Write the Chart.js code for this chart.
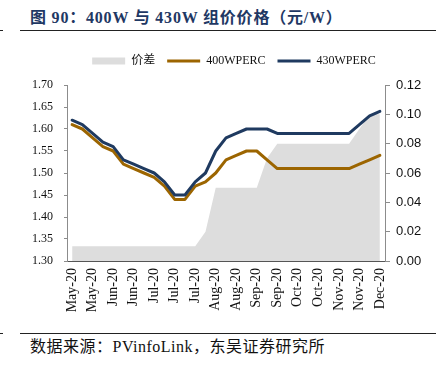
<!DOCTYPE html>
<html>
<head>
<meta charset="utf-8">
<script src="https://cdn.jsdelivr.net/npm/chart.js@4.4.1/dist/chart.umd.min.js"></script>
<style>
  body {
    margin: 0;
    width: 442px;
    height: 371px;
    background: #fff;
    position: relative;
    overflow: hidden;
    font-family: "Liberation Serif", "Noto Sans CJK SC", serif;
  }
  #title {
    position: absolute;
    left: 30px;
    top: 4px;
    font-size: 16px;
    letter-spacing: 0.8px;
    font-weight: bold;
    color: #1f3864;
    white-space: nowrap;
  }
  .rule {
    position: absolute;
    height: 0;
    border-top: 1.5px solid #222;
  }
  #box {
    position: absolute;
    left: 0;
    top: 40px;
    width: 442px;
    height: 290px;
  }
  #source {
    position: absolute;
    left: 30px;
    top: 333px;
    font-size: 16px;
    letter-spacing: 0.5px;
    color: #111;
    white-space: nowrap;
  }
</style>
</head>
<body>
<div id="title">图 90：400W 与 430W 组价价格（元/W）</div>
<div class="rule" style="left:20px;top:30px;width:416px"></div>
<div class="rule" style="left:0;top:30px;width:3px"></div>
<div id="box"><canvas id="priceChart"></canvas></div>
<div class="rule" style="left:20px;top:333px;width:416px"></div>
<div class="rule" style="left:0;top:333px;width:3px"></div>
<div id="source">数据来源：PVinfoLink，东吴证券研究所</div>

<script>
// weekly points, May-20 .. Dec-20
const weeks = [
  "May-20", "May-20", "May-20", "May-20",
  "Jun-20", "Jun-20", "Jun-20", "Jun-20",
  "Jul-20", "Jul-20", "Jul-20", "Jul-20", "Jul-20",
  "Aug-20", "Aug-20", "Aug-20", "Aug-20",
  "Sep-20", "Sep-20", "Sep-20", "Sep-20", "Sep-20",
  "Oct-20", "Oct-20", "Oct-20", "Oct-20",
  "Nov-20", "Nov-20", "Nov-20", "Nov-20",
  "Dec-20",
];

const price400 = [
  1.61, 1.60, 1.58, 1.56, 1.55, 1.52, 1.51, 1.50, 1.49, 1.47, 1.44,
  1.44, 1.47, 1.48, 1.50, 1.53, 1.54, 1.55, 1.55, 1.53, 1.51, 1.51,
  1.51, 1.51, 1.51, 1.51, 1.51, 1.51, 1.52, 1.53, 1.54,
];

const price430 = [
  1.62, 1.61, 1.59, 1.57, 1.56, 1.53, 1.52, 1.51, 1.50, 1.48, 1.45,
  1.45, 1.48, 1.50, 1.55, 1.58, 1.59, 1.60, 1.60, 1.60, 1.59, 1.59,
  1.59, 1.59, 1.59, 1.59, 1.59, 1.59, 1.61, 1.63, 1.64,
];

const spread = [
  0.01, 0.01, 0.01, 0.01, 0.01, 0.01, 0.01, 0.01, 0.01, 0.01, 0.01,
  0.01, 0.01, 0.02, 0.05, 0.05, 0.05, 0.05, 0.05, 0.07, 0.08, 0.08,
  0.08, 0.08, 0.08, 0.08, 0.08, 0.08, 0.09, 0.10, 0.10,
];

const seriesNames = ["价差", "400WPERC", "430WPERC"];

const serif = "'Liberation Serif', 'Noto Sans CJK SC', serif";
const axisGray = "#8c8c8c";

// push the plot down under the legend and move the legend a bit right
const legendNudge = {
  id: "legendNudge",
  beforeLayout(chart) {
    const legend = chart.legend;
    if (!legend || legend._nudged) return;
    legend._nudged = true;
    const fit = legend.fit;
    legend.fit = function () {
      fit.call(this);
      this.height += 8;
    };
  },
  beforeDraw(chart) {
    const legend = chart.legend;
    if (!legend || legend._shifted) return;
    legend._shifted = true;
    legend.left += 13;
    legend.right += 13;
  },
};

const ctx = document.getElementById("priceChart").getContext("2d");

window.priceChart = new Chart(ctx, {
  type: "line",
  data: {
    labels: weeks,
    datasets: [
      {
        label: seriesNames[0],
        data: spread,
        yAxisID: "y1",
        fill: "origin",
        backgroundColor: "#dddddd",
        borderColor: "#dddddd",
        borderWidth: 0,
        pointRadius: 0,
        pointStyle: "rect",
        order: 3,
      },
      {
        label: seriesNames[1],
        data: price400,
        yAxisID: "y",
        borderColor: "#9c6500",
        backgroundColor: "#9c6500",
        borderWidth: 3,
        pointRadius: 0,
        pointStyle: "line",
        order: 2,
      },
      {
        label: seriesNames[2],
        data: price430,
        yAxisID: "y",
        borderColor: "#1f3a60",
        backgroundColor: "#1f3a60",
        borderWidth: 3,
        pointRadius: 0,
        pointStyle: "line",
        order: 1,
      },
    ],
  },
  plugins: [legendNudge],
  options: {
    responsive: true,
    maintainAspectRatio: false,
    animation: false,
    layout: {
      padding: { top: 3, left: 0, right: 0, bottom: 0 },
    },
    elements: {
      line: { tension: 0, borderCapStyle: "round", borderJoinStyle: "round" },
    },
    scales: {
      x: {
        offset: true,
        grid: {
          offset: true,
          drawOnChartArea: false,
          drawTicks: true,
          tickLength: -4,
          color: "#555",
        },
        border: { color: "#555", width: 1 },
        ticks: {
          autoSkip: false,
          maxRotation: 90,
          minRotation: 90,
          padding: 11,
          color: "#111",
          font: { family: serif, size: 14 },
          callback: (value, index) => (index % 2 === 0 ? weeks[index] : ""),
        },
        afterFit: (scale) => {
          scale.height = 69;
        },
      },
      y: {
        position: "left",
        min: 1.3,
        max: 1.7,
        grid: {
          drawOnChartArea: false,
          tickLength: 3,
          color: axisGray,
        },
        border: { color: axisGray, width: 1 },
        ticks: {
          stepSize: 0.05,
          padding: 11,
          color: "#111",
          font: { family: serif, size: 12 },
          callback: (v) => v.toFixed(2),
        },
        afterFit: (scale) => {
          scale.width = 67;
        },
      },
      y1: {
        position: "right",
        min: 0,
        max: 0.12,
        grid: {
          drawOnChartArea: false,
          tickLength: 5,
          color: axisGray,
        },
        border: { color: axisGray, width: 1 },
        ticks: {
          stepSize: 0.02,
          padding: 6,
          color: "#111",
          font: { family: "'Liberation Sans', Arial, sans-serif", size: 13 },
          callback: (v) => v.toFixed(2),
        },
        afterFit: (scale) => {
          scale.width = 57;
        },
      },
    },
    plugins: {
      title: { display: false },
      tooltip: { enabled: false },
      legend: {
        position: "top",
        labels: {
          usePointStyle: true,
          pointStyleWidth: 33,
          boxHeight: 7,
          padding: 12,
          color: "#111",
          font: { family: serif, size: 12 },
          sort: (a, b) => a.datasetIndex - b.datasetIndex,
        },
      },
    },
  },
});
</script>
</body>
</html>
